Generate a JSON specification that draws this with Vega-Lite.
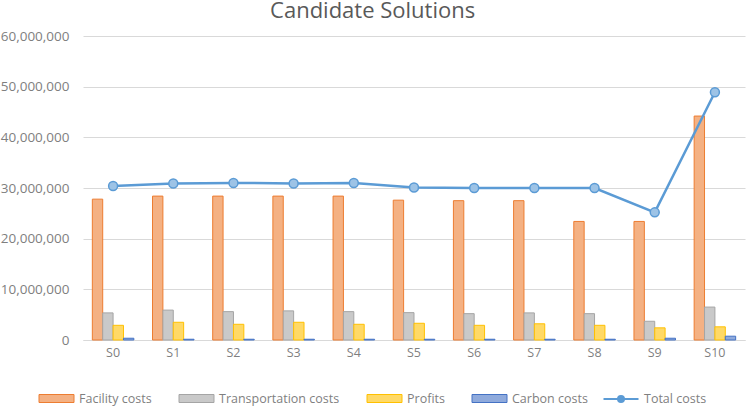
{
  "$schema": "https://vega.github.io/schema/vega-lite/v6.json",
  "width": 750,
  "height": 406,
  "autosize": {"type": "fit", "contains": "padding"},
  "padding": {"left": 0, "right": 5, "top": 0, "bottom": 47},
  "background": "white",
  "title": {
    "text": "Candidate  Solutions",
    "fontSize": 22,
    "font": "Open Sans",
    "fontWeight": "normal",
    "color": "#595959",
    "anchor": "middle",
    "frame": "bounds",
    "offset": -5,
    "dy": -11
  },
  "config": {
    "view": {"stroke": null},
    "font": "Open Sans",
    "axis": {"labelColor": "#7F7F7F", "labelFont": "Open Sans", "labelFontSize": 12.5, "titleColor": "#595959"},
    "legend": {"labelColor": "#7F7F7F", "labelFont": "Open Sans", "labelFontSize": 12.5}
  },
  "data": {
    "values": [
      {"sol": "S0", "Facility costs": 27800000, "Transportation costs": 5350000, "Profits": 2900000, "Carbon costs": 350000, "Total costs": 30400000},
      {"sol": "S1", "Facility costs": 28400000, "Transportation costs": 5900000, "Profits": 3500000, "Carbon costs": 150000, "Total costs": 30900000},
      {"sol": "S2", "Facility costs": 28400000, "Transportation costs": 5600000, "Profits": 3100000, "Carbon costs": 150000, "Total costs": 31000000},
      {"sol": "S3", "Facility costs": 28400000, "Transportation costs": 5750000, "Profits": 3500000, "Carbon costs": 150000, "Total costs": 30900000},
      {"sol": "S4", "Facility costs": 28400000, "Transportation costs": 5600000, "Profits": 3100000, "Carbon costs": 150000, "Total costs": 31000000},
      {"sol": "S5", "Facility costs": 27600000, "Transportation costs": 5400000, "Profits": 3300000, "Carbon costs": 150000, "Total costs": 30100000},
      {"sol": "S6", "Facility costs": 27500000, "Transportation costs": 5200000, "Profits": 2900000, "Carbon costs": 150000, "Total costs": 30000000},
      {"sol": "S7", "Facility costs": 27500000, "Transportation costs": 5350000, "Profits": 3200000, "Carbon costs": 150000, "Total costs": 30000000},
      {"sol": "S8", "Facility costs": 23400000, "Transportation costs": 5200000, "Profits": 2900000, "Carbon costs": 150000, "Total costs": 30000000},
      {"sol": "S9", "Facility costs": 23400000, "Transportation costs": 3700000, "Profits": 2400000, "Carbon costs": 350000, "Total costs": 25200000},
      {"sol": "S10", "Facility costs": 44200000, "Transportation costs": 6500000, "Profits": 2600000, "Carbon costs": 750000, "Total costs": 48900000}
    ]
  },
  "encoding": {
    "x": {
      "field": "sol", "type": "nominal", "sort": null,
      "scale": {"paddingInner": 0.31, "paddingOuter": 0.155},
      "axis": {"title": null, "labelAngle": 0, "ticks": false, "domainColor": "#D9D9D9", "labelPadding": 6, "grid": false}
    }
  },
  "layer": [
    {
      "transform": [
        {"fold": ["Facility costs", "Transportation costs", "Profits", "Carbon costs"], "as": ["series", "value"]}
      ],
      "mark": {"type": "bar", "strokeWidth": 1},
      "encoding": {
        "xOffset": {"field": "series", "type": "nominal", "sort": ["Facility costs", "Transportation costs", "Profits", "Carbon costs"], "scale": {"paddingInner": 0}},
        "y": {
          "field": "value", "type": "quantitative",
          "scale": {"domain": [0, 60000000]},
          "axis": {"title": null, "format": ",.0f", "tickCount": 6, "ticks": false, "domain": false, "gridColor": "#D9D9D9", "labelPadding": 14, "labelFontSize": 13.5}
        },
        "fill": {
          "field": "series", "type": "nominal",
          "scale": {"domain": ["Facility costs", "Transportation costs", "Profits", "Carbon costs"], "range": ["#F4B183", "#C9C9C9", "#FFD966", "#8FAADC"]},
          "legend": {"title": null, "orient": "none", "legendX": -37, "legendY": 352, "direction": "horizontal", "symbolType": "M-1.75,-0.4H1.75V0.4H-1.75Z", "symbolSize": 400, "symbolStrokeWidth": 1, "columnPadding": 25, "labelOffset": 12}
        },
        "stroke": {
          "field": "series", "type": "nominal",
          "scale": {"domain": ["Facility costs", "Transportation costs", "Profits", "Carbon costs"], "range": ["#ED7D31", "#A5A5A5", "#FFC000", "#4472C4"]},
          "legend": null
        }
      }
    },
    {
      "mark": {"type": "line", "strokeWidth": 2.5, "point": {"filled": true, "size": 80, "fill": "#9DC3E6", "stroke": "#5B9BD5", "strokeWidth": 1.5}},
      "encoding": {
        "y": {
          "field": "Total costs", "type": "quantitative",
          "axis": {"title": null, "format": ",.0f", "tickCount": 6, "ticks": false, "domain": false, "gridColor": "#D9D9D9", "labelPadding": 14, "labelFontSize": 13.5}
        },
        "color": {
          "datum": "Total costs", "type": "nominal",
          "scale": {"domain": ["Total costs"], "range": ["#5B9BD5"]},
          "legend": {"title": null, "orient": "none", "legendX": 527, "legendY": 352, "symbolType": "M-1.75,0H-0.3M0.3,0H1.75M-0.3,0A0.3,0.3 0 1,0 0.3,0A0.3,0.3 0 1,0 -0.3,0", "symbolSize": 400, "symbolStrokeWidth": 2, "symbolFillColor": "#9DC3E6", "labelOffset": 12}
        }
      }
    }
  ]
}
